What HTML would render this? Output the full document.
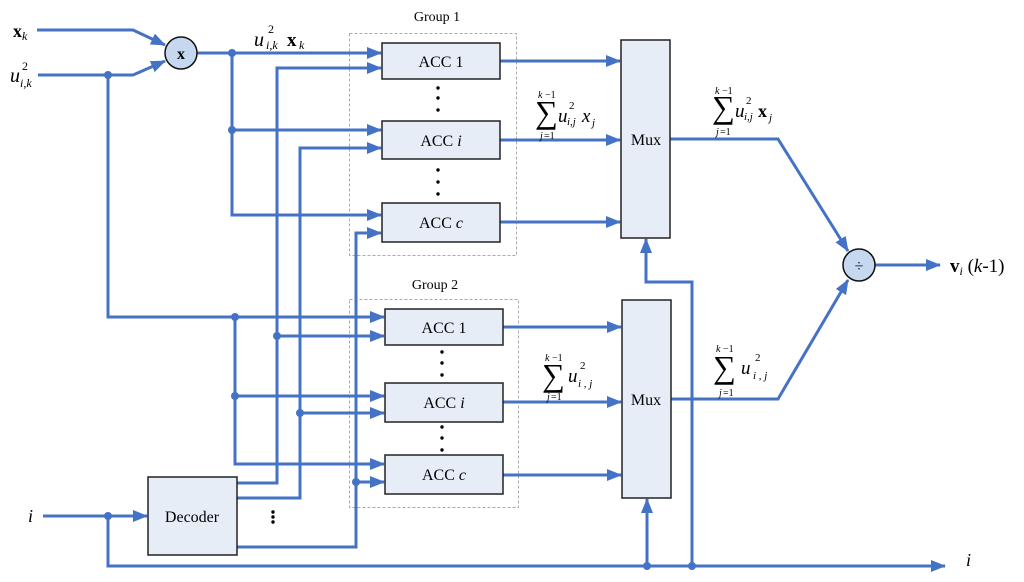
<!DOCTYPE html>
<html><head><meta charset="utf-8"><style>
html,body{margin:0;padding:0;background:#fff}
svg{display:block}
text{font-family:"Liberation Serif",serif;fill:#000}
</style></head><body>
<svg width="1024" height="582" viewBox="0 0 1024 582" xmlns="http://www.w3.org/2000/svg">
<defs>
<marker id="a" markerUnits="userSpaceOnUse" markerWidth="15" markerHeight="12" refX="14" refY="6" orient="auto">
<path d="M0,0 L15,6 L0,12 z" fill="#4472C4"/>
</marker>
</defs>
<g fill="none" stroke="#aaa" stroke-width="1" stroke-dasharray="3,2">
<rect x="349.5" y="33.5" width="167" height="222"/>
<rect x="349.5" y="299.5" width="169" height="208"/>
</g>
<g fill="none" stroke="#4472C4" stroke-width="3" stroke-linejoin="miter">
<polyline points="37,30 133,30 165,45" marker-end="url(#a)"/>
<polyline points="38,75 133,75 165,61" marker-end="url(#a)"/>
<polyline points="197,53 381,53" marker-end="url(#a)"/>
<polyline points="232,53 232,215 381,215" marker-end="url(#a)"/>
<polyline points="232,130 381,130" marker-end="url(#a)"/>
<polyline points="108,75 108,317 384,317" marker-end="url(#a)"/>
<polyline points="235,317 235,464 384,464" marker-end="url(#a)"/>
<polyline points="235,396 384,396" marker-end="url(#a)"/>
<polyline points="237,483 277,483 277,68 381,68" marker-end="url(#a)"/>
<polyline points="277,336 384,336" marker-end="url(#a)"/>
<polyline points="237,498 300,498 300,148 381,148" marker-end="url(#a)"/>
<polyline points="300,413 384,413" marker-end="url(#a)"/>
<polyline points="237,547 356,547 356,233 381,233" marker-end="url(#a)"/>
<polyline points="356,482 384,482" marker-end="url(#a)"/>
<polyline points="43,516 147,516" marker-end="url(#a)"/>
<polyline points="108,516 108,566 945,566" marker-end="url(#a)"/>
<polyline points="500,61 620,61" marker-end="url(#a)"/>
<polyline points="500,140 620,140" marker-end="url(#a)"/>
<polyline points="500,222 620,222" marker-end="url(#a)"/>
<polyline points="503,327 621,327" marker-end="url(#a)"/>
<polyline points="503,402 621,402" marker-end="url(#a)"/>
<polyline points="503,475 621,475" marker-end="url(#a)"/>
<polyline points="670,139 778,139 848,251" marker-end="url(#a)"/>
<polyline points="671,399 778,399 848,280" marker-end="url(#a)"/>
<polyline points="692,566 692,282 646,282 646,239" marker-end="url(#a)"/>
<polyline points="647,566 647,499" marker-end="url(#a)"/>
<polyline points="875,265 940,265" marker-end="url(#a)"/>
</g>
<g fill="#4472C4">
<circle cx="108" cy="75" r="4"/><circle cx="232" cy="53" r="4"/><circle cx="232" cy="130" r="4"/>
<circle cx="235" cy="317" r="4"/><circle cx="235" cy="396" r="4"/><circle cx="277" cy="336" r="4"/>
<circle cx="300" cy="413" r="4"/><circle cx="356" cy="482" r="4"/><circle cx="108" cy="516" r="4"/>
<circle cx="647" cy="566" r="4"/><circle cx="692" cy="566" r="4"/>
</g>
<g fill="#E6EDF7" stroke="#222" stroke-width="1.5">
<rect x="382" y="43" width="118" height="36"/>
<rect x="382" y="121" width="118" height="38"/>
<rect x="382" y="203" width="118" height="39"/>
<rect x="385" y="309" width="118" height="36"/>
<rect x="385" y="383" width="118" height="39"/>
<rect x="385" y="455" width="118" height="39"/>
<rect x="148" y="477" width="89" height="78"/>
<rect x="621" y="40" width="49" height="198"/>
<rect x="622" y="300" width="49" height="198"/>
</g>
<g fill="#C5D8EF" stroke="#111" stroke-width="1.5">
<circle cx="181" cy="53" r="16"/>
<circle cx="859" cy="265" r="16"/>
</g>
<text x="181" y="59" font-family="Liberation Sans" font-weight="bold" font-size="16" text-anchor="middle">x</text>
<text x="859" y="271" font-size="16" text-anchor="middle">÷</text>
<g font-size="16" text-anchor="middle">
<text x="441" y="67">ACC 1</text>
<text x="441" y="146">ACC <tspan font-style="italic">i</tspan></text>
<text x="441" y="228">ACC <tspan font-style="italic">c</tspan></text>
<text x="444" y="333">ACC 1</text>
<text x="444" y="408">ACC <tspan font-style="italic">i</tspan></text>
<text x="444" y="480">ACC <tspan font-style="italic">c</tspan></text>
<text x="192" y="522">Decoder</text>
<text x="646" y="145">Mux</text>
<text x="646" y="405">Mux</text>
</g>
<g font-size="14" text-anchor="middle">
<text x="437" y="21">Group 1</text>
<text x="435" y="289">Group 2</text>
</g>
<g fill="#000">
<circle cx="438" cy="88" r="1.7"/><circle cx="438" cy="98" r="1.7"/><circle cx="438" cy="110" r="1.7"/>
<circle cx="438" cy="170" r="1.7"/><circle cx="438" cy="182" r="1.7"/><circle cx="438" cy="194" r="1.7"/>
<circle cx="442" cy="352" r="1.7"/><circle cx="442" cy="363" r="1.7"/><circle cx="442" cy="375" r="1.7"/>
<circle cx="442" cy="427" r="1.7"/><circle cx="442" cy="438" r="1.7"/><circle cx="442" cy="450" r="1.7"/>
<circle cx="273" cy="512" r="1.7"/><circle cx="273" cy="517" r="1.7"/><circle cx="273" cy="522" r="1.7"/>
</g>
<text x="13" y="37" font-size="18" font-weight="bold">x<tspan font-size="12" font-style="italic" font-weight="normal" dy="3">k</tspan></text>
<text x="10" y="82" font-size="20" font-style="italic">u</text>
<text x="22" y="70" font-size="12">2</text>
<text x="20" y="87" font-size="12" font-style="italic">i,k</text>
<text x="254" y="46" font-size="20" font-style="italic">u</text>
<text x="268" y="33" font-size="12">2</text>
<text x="266" y="49" font-size="12" font-style="italic">i,k</text>
<text x="287" y="46" font-size="19" font-weight="bold">x</text>
<text x="299" y="49" font-size="12" font-style="italic">k</text>
<text x="28" y="522" font-size="18" font-style="italic">i</text>
<text x="966" y="566" font-size="18" font-style="italic">i</text>
<text x="950" y="272" font-size="19"><tspan font-weight="bold">v</tspan><tspan font-size="12" font-style="italic" dy="3">i</tspan><tspan dy="-3"> (</tspan><tspan font-style="italic">k</tspan>-1)</text>
<!-- sum labels -->
<g font-size="10">
<text x="538" y="98" font-style="italic">k</text><text x="545" y="98">−1</text>
<text x="540" y="139" font-style="italic">j</text><text x="544" y="139">=1</text>
<text x="715" y="94" font-style="italic">k</text><text x="722" y="94">−1</text>
<text x="716" y="135" font-style="italic">j</text><text x="720" y="135">=1</text>
<text x="545" y="361" font-style="italic">k</text><text x="552" y="361">−1</text>
<text x="547" y="400" font-style="italic">j</text><text x="551" y="400">=1</text>
<text x="716" y="352" font-style="italic">k</text><text x="723" y="352">−1</text>
<text x="719" y="396" font-style="italic">j</text><text x="723" y="396">=1</text>
</g>
<g font-size="32">
<text x="535" y="123">∑</text>
<text x="712" y="118">∑</text>
<text x="542" y="386">∑</text>
<text x="713" y="378">∑</text>
</g>
<text x="558" y="122" font-size="19" font-style="italic">u</text>
<text x="569" y="109" font-size="11">2</text>
<text x="567" y="125" font-size="11" font-style="italic">i,j</text>
<text x="582" y="122" font-size="19" font-style="italic">x</text>
<text x="592" y="126" font-size="11" font-style="italic">j</text>
<text x="735" y="117" font-size="19" font-style="italic">u</text>
<text x="746" y="104" font-size="11">2</text>
<text x="744" y="120" font-size="11" font-style="italic">i,j</text>
<text x="758" y="117" font-size="18" font-weight="bold">x</text>
<text x="769" y="121" font-size="11" font-style="italic">j</text>
<text x="568" y="382" font-size="19" font-style="italic">u</text>
<text x="580" y="369" font-size="11">2</text>
<text x="578" y="387" font-size="11" font-style="italic">i , j</text>
<text x="741" y="374" font-size="19" font-style="italic">u</text>
<text x="755" y="361" font-size="11">2</text>
<text x="753" y="379" font-size="11" font-style="italic">i , j</text>
</svg>
</body></html>
